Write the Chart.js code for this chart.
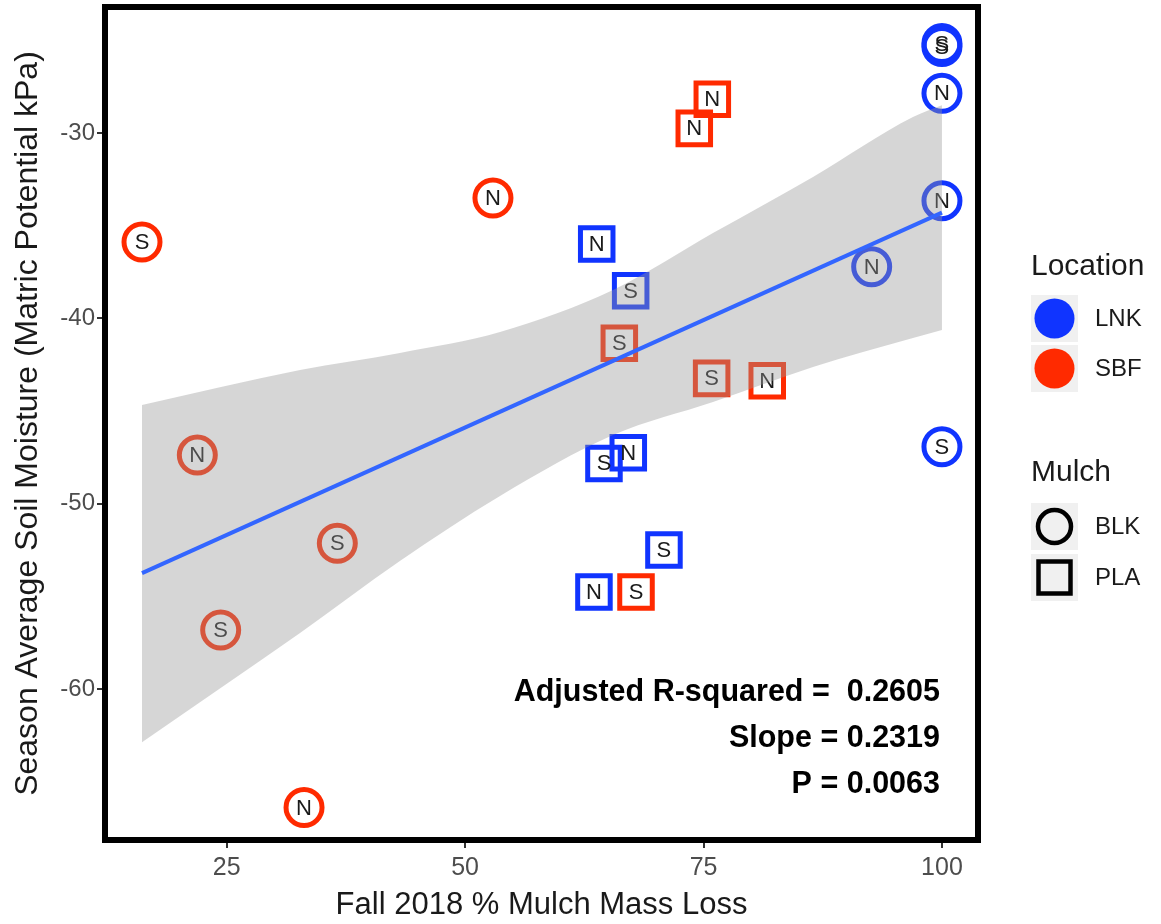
<!DOCTYPE html>
<html>
<head>
<meta charset="utf-8">
<script src="https://cdn.jsdelivr.net/npm/chart.js@4/dist/chart.umd.min.js"></script>
<style>
  html, body { margin: 0; padding: 0; background: #ffffff; }
  #c { display: block; }
</style>
</head>
<body>
<canvas id="c" width="1161" height="924"></canvas>
<script>
// ---- data -------------------------------------------------------------
const xTicks = [25, 50, 75, 100];
const yTicks = [-60, -50, -40, -30];

// SBF site, black mulch
const sbfBlkX   = [16.12, 52.92, 21.92, 36.60, 24.37, 33.11];
const sbfBlkY   = [-35.88, -33.51, -47.38, -52.14, -56.82, -66.40];
const sbfBlkLab = ['S', 'N', 'N', 'S', 'S', 'N'];

// SBF site, PLA mulch
const sbfPlaX   = [75.92, 74.03, 66.17, 75.85, 81.68, 67.92];
const sbfPlaY   = [-28.18, -29.75, -41.35, -43.24, -43.37, -54.77];
const sbfPlaLab = ['N', 'N', 'S', 'S', 'N', 'S'];

// LNK site, PLA mulch
const lnkPlaX   = [63.80, 67.36, 67.11, 64.56, 70.85, 63.51];
const lnkPlaY   = [-35.99, -38.51, -47.25, -47.83, -52.50, -54.77];
const lnkPlaLab = ['N', 'S', 'N', 'S', 'S', 'N'];

// LNK site, black mulch
const lnkBlkX   = [92.63, 100, 100, 100, 100, 100];
const lnkBlkY   = [-37.22, -25.17, -25.33, -27.86, -33.65, -46.93];
const lnkBlkLab = ['N', 'S', 'S', 'N', 'N', 'S'];

// linear fit and its 95% confidence band
const fitSlope  = 0.2319;
const fitX      = [16.12, 100];
const fitStartY = -53.75;
const bandX     = [16.12, 32.69, 43.16, 53.66, 65.51, 75.99, 86.48, 96.96, 100];
const bandHigh  = [-44.68, -42.79, -41.87, -40.74, -38.47, -35.40, -32.37, -29.14, -28.50];
const bandLow   = [-62.87, -56.98, -53.10, -49.59, -46.30, -44.52, -42.63, -41.06, -40.63];

const statLines = ['Adjusted R-squared =  0.2605', 'Slope = 0.2319', 'P = 0.0063'];

const locationNames = ['LNK', 'SBF'];
const mulchNames    = ['BLK', 'PLA'];

// ---- styling ----------------------------------------------------------
const FONT = "'Liberation Sans', Arial, Helvetica, sans-serif";
const LNK_COLOR = '#1034ff';
const SBF_COLOR = '#ff2a00';
const FIT_COLOR = '#3366ff';

function pts(xs, ys) { return xs.map((x, i) => ({ x: x, y: ys[i] })); }
const fitY = fitX.map(x => fitStartY + fitSlope * (x - fitX[0]));

function markSet(label, xs, ys, labs, color, shape, ord) {
  const isRect = shape === 'rect';
  return {
    type: 'scatter',
    label: label,
    data: pts(xs, ys),
    markText: labs,
    order: ord,
    pointStyle: shape,
    pointRadius: isRect ? 23 : 18,
    pointHoverRadius: isRect ? 23 : 18,
    pointBorderWidth: 5,
    pointHoverBorderWidth: 5,
    pointBorderColor: color,
    pointBackgroundColor: 'rgba(255,255,255,0)',
    borderColor: color,
    backgroundColor: 'rgba(255,255,255,0)'
  };
}

// N / S text printed inside each mark, drawn before the band goes over it
const markLabels = {
  id: 'markLabels',
  afterDatasetDraw(chart, args) {
    if (chart.data.datasets[args.index].order !== 3) return;
    const ctx = chart.ctx;
    ctx.save();
    ctx.font = '22px ' + FONT;
    ctx.fillStyle = '#1a1a1a';
    ctx.textAlign = 'center';
    ctx.textBaseline = 'middle';
    chart.data.datasets.forEach((ds, i) => {
      if (!ds.markText) return;
      const meta = chart.getDatasetMeta(i);
      meta.data.forEach((el, j) => ctx.fillText(ds.markText[j], el.x, el.y + 1));
    });
    ctx.restore();
  }
};

// panel frame, statistics text and the two side legends
const decorations = {
  id: 'decorations',
  afterDraw(chart) {
    const ctx = chart.ctx;
    const a = chart.chartArea;
    ctx.save();

    ctx.strokeStyle = '#000000';
    ctx.lineWidth = 6;
    ctx.strokeRect(a.left, a.top, a.right - a.left, a.bottom - a.top);

    ctx.fillStyle = '#000000';
    ctx.font = 'bold 30.5px ' + FONT;
    ctx.textAlign = 'right';
    ctx.textBaseline = 'middle';
    const statY = [693, 739, 785];
    statLines.forEach((t, i) => ctx.fillText(t, 940, statY[i]));

    const keyX = 1031, keyW = 47, keyH = 47, labX = 1095;
    ctx.textAlign = 'left';
    ctx.fillStyle = '#1a1a1a';
    ctx.font = '30px ' + FONT;
    ctx.fillText('Location', keyX, 267);
    ctx.fillText('Mulch', keyX, 473);

    const locColors = [LNK_COLOR, SBF_COLOR];
    const locTop = [295, 345];
    locationNames.forEach((name, i) => {
      ctx.fillStyle = '#f0f0f0';
      ctx.fillRect(keyX, locTop[i], keyW, keyH);
      ctx.fillStyle = locColors[i];
      ctx.beginPath();
      ctx.arc(keyX + keyW / 2, locTop[i] + keyH / 2, 20, 0, Math.PI * 2);
      ctx.fill();
      ctx.fillStyle = '#1a1a1a';
      ctx.font = '24px ' + FONT;
      ctx.fillText(name, labX, locTop[i] + keyH / 2 + 1);
    });

    const mulTop = [503, 554];
    mulchNames.forEach((name, i) => {
      ctx.fillStyle = '#f0f0f0';
      ctx.fillRect(keyX, mulTop[i], keyW, keyH);
      const cx = keyX + keyW / 2, cy = mulTop[i] + keyH / 2;
      ctx.strokeStyle = '#000000';
      ctx.lineWidth = 4.5;
      ctx.beginPath();
      if (i === 0) ctx.arc(cx, cy, 16.5, 0, Math.PI * 2);
      else ctx.rect(cx - 16, cy - 16, 32, 32);
      ctx.stroke();
      ctx.fillStyle = '#1a1a1a';
      ctx.font = '24px ' + FONT;
      ctx.fillText(name, labX, cy + 1);
    });

    ctx.restore();
  }
};

const datasets = [
  { type: 'line', label: 'fit', data: pts(fitX, fitY), order: 0,
    borderColor: FIT_COLOR, borderWidth: 4, pointRadius: 0, pointHoverRadius: 0, fill: false },
  markSet('LNK BLK', lnkBlkX, lnkBlkY, lnkBlkLab, LNK_COLOR, 'circle', 3),
  markSet('LNK PLA', lnkPlaX, lnkPlaY, lnkPlaLab, LNK_COLOR, 'rect', 4),
  markSet('SBF PLA', sbfPlaX, sbfPlaY, sbfPlaLab, SBF_COLOR, 'rect', 5),
  markSet('SBF BLK', sbfBlkX, sbfBlkY, sbfBlkLab, SBF_COLOR, 'circle', 6),
  { type: 'line', label: 'band low', data: pts(bandX, bandLow), order: 2,
    borderWidth: 0, borderColor: 'rgba(0,0,0,0)', pointRadius: 0, pointHoverRadius: 0,
    cubicInterpolationMode: 'monotone', fill: false },
  { type: 'line', label: 'band high', data: pts(bandX, bandHigh), order: 1,
    borderWidth: 0, borderColor: 'rgba(0,0,0,0)', pointRadius: 0, pointHoverRadius: 0,
    cubicInterpolationMode: 'monotone', fill: '-1', backgroundColor: 'rgba(153,153,153,0.4)' }
];

const tickGrid = { drawOnChartArea: false, drawTicks: true, tickLength: 8, color: '#333333', lineWidth: 2 };

new Chart(document.getElementById('c'), {
  type: 'scatter',
  data: { datasets: datasets },
  options: {
    responsive: false,
    animation: false,
    events: [],
    layout: { autoPadding: false, padding: { left: 0, right: 183, top: 7, bottom: 0 } },
    plugins: { legend: { display: false }, tooltip: { enabled: false } },
    scales: {
      x: {
        type: 'linear', min: 12.24, max: 103.78,
        afterBuildTicks: ax => { ax.ticks = xTicks.map(v => ({ value: v })); },
        afterFit: ax => { ax.height = 84; ax.paddingLeft = 0; ax.paddingRight = 0; },
        grid: tickGrid,
        border: { display: false },
        ticks: { font: { family: FONT, size: 25 }, color: '#4d4d4d', padding: 5, maxRotation: 0, autoSkip: false },
        title: { display: true, text: 'Fall 2018 % Mulch Mass Loss', color: '#1a1a1a',
                 font: { family: FONT, size: 31, lineHeight: 1 }, padding: { top: 0, bottom: 3 } }
      },
      y: {
        type: 'linear', min: -68.15, max: -23.20,
        afterBuildTicks: ax => { ax.ticks = yTicks.map(v => ({ value: v })); },
        afterFit: ax => { ax.width = 105; ax.paddingTop = 0; ax.paddingBottom = 0; },
        grid: tickGrid,
        border: { display: false },
        ticks: { font: { family: FONT, size: 24 }, color: '#4d4d4d', padding: 2 },
        title: { display: true, text: 'Season Average Soil Moisture (Matric Potential kPa)', color: '#1a1a1a',
                 font: { family: FONT, size: 32, lineHeight: 1 }, padding: { top: 12, bottom: 0 } }
      }
    }
  },
  plugins: [markLabels, decorations]
});
</script>
</body>
</html>
